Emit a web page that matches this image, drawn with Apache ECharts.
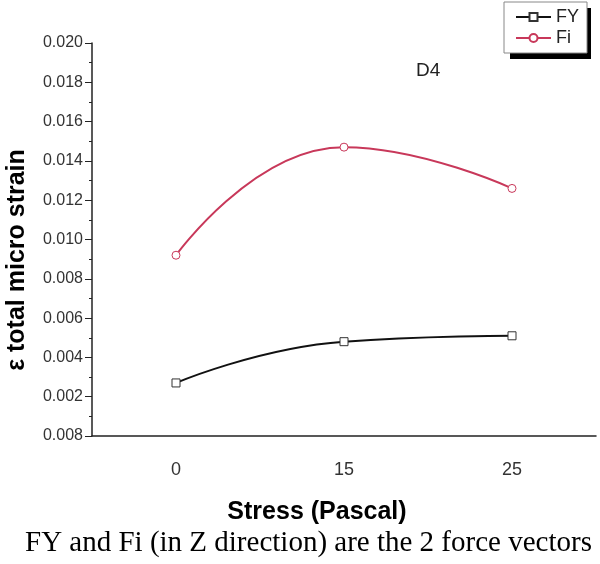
<!DOCTYPE html>
<html>
<head>
<meta charset="utf-8">
<script src="https://cdn.jsdelivr.net/npm/echarts@6/dist/echarts.min.js"></script>
<style>
  html, body { margin: 0; padding: 0; background: #fff; }
  #chart { width: 600px; height: 564px; }
</style>
</head>
<body>
<div id="chart"></div>
<script>
// x categories (stress, Pascal)
var categories = ['0', '15', '25'];
// series values
var fyValues = [0.0027, 0.0048, 0.0051];
var fiValues = [0.0092, 0.0147, 0.0126];
// y tick labels as printed (bottom one reads 0.008 in the original)
var yTickLabels = ['0.008', '0.002', '0.004', '0.006', '0.008', '0.010',
  '0.012', '0.014', '0.016', '0.018', '0.020'];

var myChart = echarts.init(document.getElementById('chart'));
var option = {
  animation: false,
  textStyle: { fontFamily: 'Liberation Sans, Arial, sans-serif' },
  grid: { left: 92, right: 4, top: 43, bottom: 128 },
  legend: {
    orient: 'vertical',
    left: 504,
    top: 2,
    z: 10,
    padding: [6, 8, 6, 11],
    itemGap: 3,
    itemWidth: 35,
    itemHeight: 10,
    backgroundColor: '#fff',
    borderColor: '#888',
    borderWidth: 1,
    textStyle: { fontSize: 18, color: '#222' },
    data: ['FY', 'Fi']
  },
  xAxis: [{
    type: 'category',
    data: categories,
    boundaryGap: true,
    axisLine: { lineStyle: { color: '#222', width: 1.5 } },
    axisTick: { alignWithLabel: true, length: 10, lineStyle: { color: '#222' } },
    axisLabel: { margin: 25, fontSize: 18, color: '#333' },
    splitLine: { show: false }
  }, {
    // second copy only for the short ticks between the categories
    type: 'category',
    position: 'bottom',
    data: categories,
    boundaryGap: true,
    axisLine: { show: false },
    axisTick: { length: 7, lineStyle: { color: '#222' } },
    axisLabel: { show: false },
    splitLine: { show: false }
  }],
  yAxis: {
    type: 'value',
    min: 0,
    max: 0.02,
    interval: 0.002,
    axisLine: { show: true, lineStyle: { color: '#222', width: 1.5 } },
    axisTick: { show: true, length: 7, lineStyle: { color: '#222' } },
    minorTick: { show: true, splitNumber: 2, length: 3, lineStyle: { color: '#222' } },
    splitLine: { show: false },
    axisLabel: {
      margin: 9,
      fontSize: 16,
      color: '#333',
      formatter: function (v) {
        return yTickLabels[Math.round(v / 0.002)];
      }
    }
  },
  graphic: [{
    // drop shadow behind the legend box
    type: 'rect',
    z: 1,
    shape: { x: 510, y: 8, width: 81, height: 51 },
    style: { fill: '#000' }
  }, {
    type: 'text',
    x: 17, y: 260,
    rotation: Math.PI / 2,
    style: {
      text: 'ε total micro strain',
      fontSize: 25, fontWeight: 'bold', fill: '#000',
      fontFamily: 'Liberation Sans, Arial, sans-serif',
      align: 'center', verticalAlign: 'middle'
    }
  }, {
    type: 'text',
    x: 317, y: 512,
    style: {
      text: 'Stress (Pascal)',
      fontSize: 25, fontWeight: 'bold', fill: '#000',
      fontFamily: 'Liberation Sans, Arial, sans-serif',
      align: 'center', verticalAlign: 'middle'
    }
  }, {
    type: 'text',
    x: 25, y: 543,
    style: {
      text: 'FY and Fi (in Z direction) are the 2 force vectors',
      fontSize: 29, fill: '#000',
      fontFamily: 'Liberation Serif, Times New Roman, serif',
      align: 'left', verticalAlign: 'middle'
    }
  }, {
    type: 'text',
    x: 416, y: 71,
    style: {
      text: 'D4',
      fontSize: 19, fill: '#222',
      fontFamily: 'Liberation Sans, Arial, sans-serif',
      align: 'left', verticalAlign: 'middle'
    }
  }],
  series: [{
    name: 'FY',
    type: 'line',
    data: fyValues,
    smooth: 0.5,
    symbol: 'rect',
    symbolSize: 8,
    itemStyle: { color: '#fff', borderColor: '#333', borderWidth: 1 },
    lineStyle: { color: '#111', width: 2 },
    color: '#111'
  }, {
    name: 'Fi',
    type: 'line',
    data: fiValues,
    smooth: 0.5,
    symbol: 'circle',
    symbolSize: 8,
    itemStyle: { color: '#fff', borderColor: '#c8385a', borderWidth: 1 },
    lineStyle: { color: '#c8385a', width: 2 },
    color: '#c8385a'
  }]
};
myChart.setOption(option);
window.onresize = myChart.resize;
</script>
</body>
</html>
